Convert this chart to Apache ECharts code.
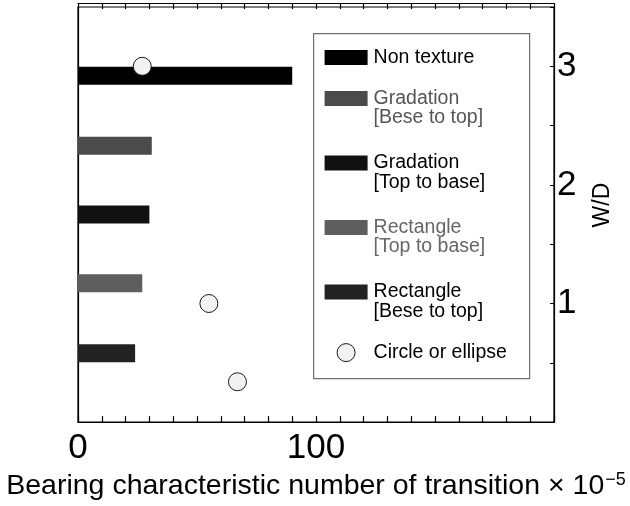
<!DOCTYPE html>
<html>
<head>
<meta charset="utf-8">
<script src="https://cdn.jsdelivr.net/npm/echarts@6/dist/echarts.min.js"></script>
<style>
  html, body { margin: 0; padding: 0; background: #fff; }
  #chart { width: 630px; height: 506px; }
</style>
</head>
<body>
<div id="chart"></div>
<script>
// Bar groups (texture type) and their bearing characteristic numbers (×10^-5)
const barNames = ['Non texture', 'Gradation [Bese to top]', 'Gradation [Top to base]', 'Rectangle [Top to base]', 'Rectangle [Bese to top]'];
const barLabels = ['Non texture', 'Gradation\n[Bese to top]', 'Gradation\n[Top to base]', 'Rectangle\n[Top to base]', 'Rectangle\n[Bese to top]'];
const barValues = [90, 31, 30, 27, 24];
const barWD = [2.92, 2.33, 1.75, 1.17, 0.58];

// Circle or ellipse: [bearing number, W/D]
const circleName = 'Circle or ellipse';
const circleX = [27, 55, 67];
const circleWD = [3.0, 1.0, 0.34];

// Axis tick labels
const xTickLabels = [0, 100];
const yTickLabels = [1, 2, 3];

const barColors = ['#000000', '#4b4b4b', '#111111', '#5e5e5e', '#222222'];
const legendTextColors = ['#000000', '#555555', '#000000', '#666666', '#000000'];
const FONT = "'Liberation Sans', Arial, sans-serif";

const chart = echarts.init(document.getElementById('chart'));

const barSeries = barNames.map((name, i) => ({
  name: name,
  type: 'custom',
  xAxisIndex: 0,
  yAxisIndex: 0,
  z: 2,
  itemStyle: { color: barColors[i] },
  data: [[barValues[i], barWD[i]]],
  renderItem: function (params, api) {
    const start = api.coord([0, api.value(1)]);
    const end = api.coord([api.value(0), api.value(1)]);
    const thick = 18;
    return {
      type: 'rect',
      shape: { x: start[0], y: start[1] - thick / 2, width: end[0] - start[0], height: thick },
      style: { fill: api.visual('color') }
    };
  }
}));

const circleSeries = {
  name: circleName,
  type: 'scatter',
  z: 5,
  symbol: 'circle',
  symbolSize: 18,
  itemStyle: { color: '#f2f2f2', borderColor: '#1a1a1a', borderWidth: 1, opacity: 1 },
  data: circleX.map((x, i) => [x, circleWD[i]])
};

// Legend drawn as a boxed list: swatch + (possibly two-line) label
const LEG = { left: 313, top: 33, width: 216, height: 345, swatchX: 11, swatchW: 43, swatchH: 15, textX: 60, firstY: 24, rowGap: 41, perLine: 23.5, lineH: 19.5 };
const legendChildren = [{
  type: 'rect',
  shape: { x: 0, y: 0, width: LEG.width, height: LEG.height },
  style: { fill: '#fff', stroke: '#707070', lineWidth: 1.2 }
}];
let cy = LEG.firstY;
barLabels.forEach((label, i) => {
  const lines = label.split('\n').length;
  legendChildren.push({
    type: 'rect',
    shape: { x: LEG.swatchX, y: cy - LEG.swatchH / 2, width: LEG.swatchW, height: LEG.swatchH },
    style: { fill: barColors[i] }
  });
  legendChildren.push({
    type: 'text',
    x: LEG.textX, y: cy - LEG.lineH / 2,
    style: { text: label, fill: legendTextColors[i], font: '19.5px ' + FONT, lineHeight: LEG.lineH, verticalAlign: 'top', align: 'left' }
  });
  cy += LEG.rowGap + LEG.perLine * (lines - 1);
});
cy -= 4;
legendChildren.push({
  type: 'circle',
  shape: { cx: LEG.swatchX + LEG.swatchW / 2, cy: cy, r: 9 },
  style: { fill: '#f2f2f2', stroke: '#1a1a1a', lineWidth: 1 }
});
legendChildren.push({
  type: 'text',
  x: LEG.textX, y: cy - LEG.lineH / 2,
  style: { text: circleName, fill: '#000', font: '19.5px ' + FONT, lineHeight: LEG.lineH, verticalAlign: 'top', align: 'left' }
});

function frameLine() {
  return { show: true, onZero: false, lineStyle: { color: '#000', width: 1.2 } };
}

const GRID = { left: 78, right: 76, top: 7, bottom: 80 };
const plotHeight = 506 - GRID.top - GRID.bottom;

const option = {
  backgroundColor: '#ffffff',
  animation: false,
  textStyle: { fontFamily: FONT },
  grid: {
    left: GRID.left, right: GRID.right, top: GRID.top, bottom: GRID.bottom, containLabel: false,
    show: true, borderColor: '#000', borderWidth: 1.2, backgroundColor: 'transparent'
  },
  xAxis: [{
    type: 'value', position: 'bottom', min: 0, max: 200, interval: 10,
    axisLine: frameLine(),
    axisTick: { show: true, inside: true, length: 6, lineStyle: { color: '#000', width: 1.2 } },
    splitLine: { show: false },
    axisLabel: {
      interval: 0, margin: 9, color: '#000', fontSize: 35, fontFamily: FONT,
      formatter: v => (xTickLabels.indexOf(v) >= 0 ? String(v) : '')
    },
    name: '{a|Bearing characteristic number of transition × 10}{b|−5}',
    nameLocation: 'middle', nameGap: 42,
    nameTextStyle: {
      rich: {
        a: { fontSize: 28.5, fontFamily: FONT, color: '#000', lineHeight: 31 },
        b: { fontSize: 18, fontFamily: FONT, color: '#000', lineHeight: 18, verticalAlign: 'top', padding: [0, 0, 0, 1] }
      }
    }
  }, {
    // mirrored tick row along the upper edge of the frame, ticks hanging into the plot
    type: 'value', position: 'bottom', offset: -plotHeight, min: 0, max: 200, interval: 10,
    axisLine: frameLine(),
    axisTick: { show: true, inside: false, length: 6, lineStyle: { color: '#000', width: 1.2 } },
    axisLabel: { show: false }, splitLine: { show: false }
  }],
  yAxis: [{
    type: 'value', position: 'left', min: 0, max: 3.5, interval: 0.5,
    axisLine: frameLine(),
    axisTick: { show: false }, axisLabel: { show: false }, splitLine: { show: false }
  }, {
    type: 'value', position: 'right', min: 0, max: 3.5, interval: 0.5,
    axisLine: frameLine(),
    axisTick: { show: true, inside: true, length: 4, lineStyle: { color: '#000', width: 1 } },
    splitLine: { show: false },
    axisLabel: {
      interval: 0, margin: 3, color: '#000', fontSize: 35, fontFamily: FONT,
      formatter: v => (yTickLabels.indexOf(v) >= 0 ? String(v) : '')
    },
    name: 'W/D', nameLocation: 'middle', nameGap: 37, nameRotate: 90,
    nameTextStyle: { fontSize: 23, fontFamily: FONT, color: '#000', padding: [0, 0, 0, 19] }
  }],
  series: barSeries.concat([circleSeries]),
  graphic: [{
    type: 'group', left: LEG.left, top: LEG.top, z: 10,
    children: legendChildren
  }]
};

chart.setOption(option);
</script>
</body>
</html>
